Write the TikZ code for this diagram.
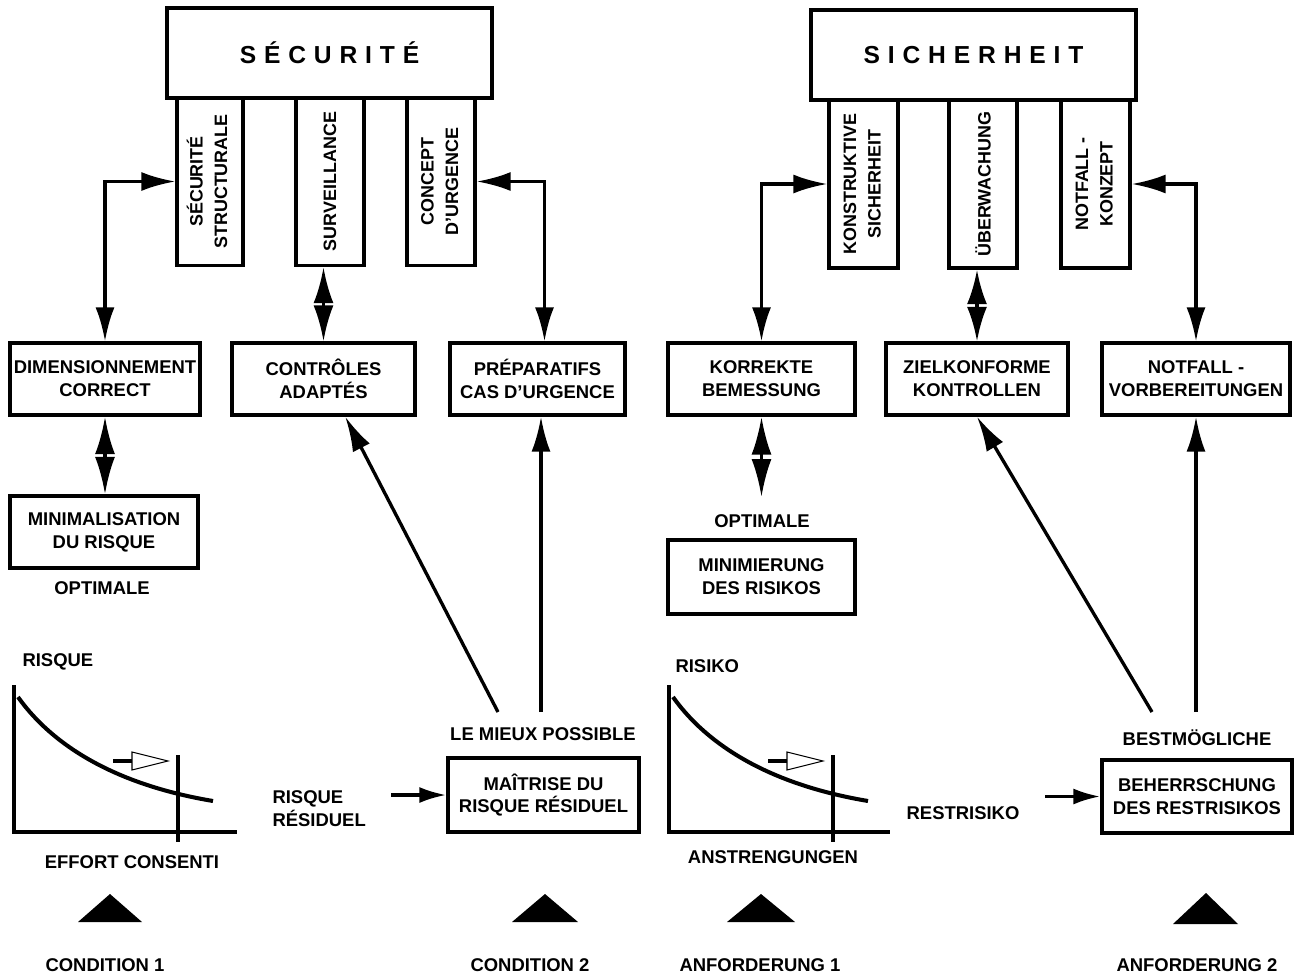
\documentclass[tikz,border=0pt]{standalone}
\usepackage{fontspec}
\setmainfont{Liberation Sans}
\usepackage{tikz}
\usetikzlibrary{arrows.meta}

\begin{document}
\begin{tikzpicture}[x=0.02cm,y=-0.02cm,line width=1.9pt,
                    every node/.style={font=\fontsize{10.5}{13}\selectfont\bfseries},
                    dbl/.style={{Latex[length=#1,width=0.4cm]}-{Latex[length=#1,width=0.4cm]}}]
  \tikzstyle{box}=[draw,align=center,inner sep=0pt,minimum height=1.44cm]
  \tikzstyle{title}=[draw,inner sep=0pt,minimum width=6.5cm,minimum height=1.8cm,
                     font=\fontsize{14}{17}\selectfont\bfseries\addfontfeatures{LetterSpace=32}]
  \tikzstyle{pillar}=[draw,inner sep=0pt,minimum height=3.36cm,
                      font=\fontsize{10.2}{14}\selectfont\bfseries]
  \tikzstyle{corner}=[{Latex[length=0.68cm,width=0.38cm]}-{Latex[length=0.68cm,width=0.38cm]}]
  \tikzstyle{arr}=[-{Latex[length=0.7cm,width=0.38cm]}]
  \tikzstyle{feed}=[-{Latex[length=0.54cm,width=0.32cm]}]

  \useasboundingbox (0,0) rectangle (1299,974);

  % French half
  \node[title]               (secu)  at (329.5,53)  {SÉCURITÉ};
  \node[pillar,minimum width=1.32cm] (ss)   at (210,181.5)
       {\rotatebox{90}{\begin{tabular}{@{}c@{}}SÉCURITÉ\\STRUCTURALE\end{tabular}}};
  \node[pillar,minimum width=1.36cm] (surv) at (330,181.5)
       {\rotatebox{90}{SURVEILLANCE}};
  \node[pillar,minimum width=1.36cm] (cu)   at (441,181.5)
       {\rotatebox{90}{\begin{tabular}{@{}c@{}}CONCEPT\\D’URGENCE\end{tabular}}};

  \node[box,minimum width=3.8cm]  (dim)   at (105,379)   {DIMENSIONNEMENT\\CORRECT};
  \node[box,minimum width=3.66cm] (contr) at (323.5,379) {CONTRÔLES\\ADAPTÉS};
  \node[box,minimum width=3.5cm]  (prep)  at (537.5,379) {PRÉPARATIFS\\CAS D’URGENCE};
  \node[box,minimum width=3.76cm] (mini)  at (104,532)   {MINIMALISATION\\DU RISQUE};
  \node                           (opt1)  at (102,588)   {OPTIMALE};

  \node[box,minimum width=3.82cm,minimum height=1.48cm] (mait) at (543.5,795)
       {MAÎTRISE DU\\RISQUE RÉSIDUEL};
  \node                           (mieux) at (543,734)   {LE MIEUX POSSIBLE};
  \node[anchor=west,align=left]   (resid) at (265,809)   {RISQUE\\RÉSIDUEL};
  \node[anchor=west]              (risque) at (15,662)   {RISQUE};
  \node                           (effort) at (132,862)  {EFFORT CONSENTI};
  \node                           (cond1) at (105,965)   {CONDITION 1};
  \node                           (cond2) at (530,965)   {CONDITION 2};

  % German half
  \node[title]               (sich)  at (973.5,55)  {SICHERHEIT};
  \node[pillar,minimum width=1.38cm] (ks)   at (863.5,184)
       {\rotatebox{90}{\begin{tabular}{@{}c@{}}KONSTRUKTIVE\\SICHERHEIT\end{tabular}}};
  \node[pillar,minimum width=1.36cm] (ueb)  at (983,184)
       {\rotatebox{90}{ÜBERWACHUNG}};
  \node[pillar,minimum width=1.38cm] (nk)   at (1095.5,184)
       {\rotatebox{90}{\begin{tabular}{@{}c@{}}NOTFALL -\\KONZEPT\end{tabular}}};

  \node[box,minimum width=3.74cm] (korr)  at (761.5,379) {KORREKTE\\BEMESSUNG};
  \node[box,minimum width=3.64cm] (ziel)  at (977,379)   {ZIELKONFORME\\KONTROLLEN};
  \node[box,minimum width=3.76cm] (nvor)  at (1196,379)  {NOTFALL -\\VORBEREITUNGEN};
  \node                           (opt2)  at (762,521)   {OPTIMALE};
  \node[box,minimum width=3.74cm,minimum height=1.48cm] (minim) at (761.5,577)
       {MINIMIERUNG\\DES RISIKOS};

  \node[box,minimum width=3.8cm,minimum height=1.46cm] (beh) at (1197,796.5)
       {BEHERRSCHUNG\\DES RESTRISIKOS};
  \node                           (best)  at (1197,738)  {BESTMÖGLICHE};
  \node                           (rest)  at (963,813)   {RESTRISIKO};
  \node[anchor=west]              (risiko) at (668,666)  {RISIKO};
  \node                           (anstr) at (773,857)   {ANSTRENGUNGEN};
  \node                           (anf1)  at (760,965)   {ANFORDERUNG 1};
  \node                           (anf2)  at (1197,965)  {ANFORDERUNG 2};

  \coordinate (m1) at (498,712);
  \coordinate (m2) at (541,712);
  \coordinate (b1) at (1152,712);
  \coordinate (b2) at (1196,712);
  \coordinate (k1) at (761.5,497);

  % connectors
  \draw[corner] (ss.west) -| (dim.north);
  \draw[corner] (cu.east) -| ([xshift=0.14cm]prep.north);
  \draw[dbl=0.72cm] (contr.north |- surv.south) -- (contr.north);
  \draw[dbl=0.75cm] (dim.south) -- (dim.south |- mini.north);
  \draw[arr] (m1) -- (contr.-60);
  \draw[arr] (m2) -- (m2 |- prep.south);
  \draw[feed] ([xshift=-1.1cm]mait.west) -- (mait.west);

  \draw[corner] (ks.west) -| (korr.north);
  \draw[corner] (nk.east) -| (nvor.north);
  \draw[dbl=0.69cm] (ziel.north |- ueb.south) -- (ziel.north);
  \draw[dbl=0.76cm] (korr.south) -- (k1);
  \draw[arr] (b1) -- (ziel.south);
  \draw[arr] (b2) -- (b2 |- nvor.south);
  \draw[feed] ([xshift=-1.1cm]beh.west) -- (beh.west);

  % risk curves
  \foreach \dx/\xe in {0/237,655/890} {
    \begin{scope}[xshift=\dx*0.02cm]
      \draw (14,685) -- (14,832) -- (\xe-\dx,832);
      \draw (178,755) -- (178,842);
      \draw[line width=2.3pt] (18,697) .. controls (45,735) and (100,782) .. (213,801);
      \draw[line width=2.3pt] (113,761) -- (132,761);
      \draw[line width=0.6pt,fill=white] (132,752) -- (168,761) -- (132,770) -- cycle;
    \end{scope}
  }

  % markers
  \fill (78,922) -- (110,894) -- (142,922) -- cycle;
  \fill (512,922) -- (545,894) -- (578,922) -- cycle;
  \fill (727,922) -- (761,894) -- (795,922) -- cycle;
  \fill (1173,924) -- (1206,893) -- (1238,924) -- cycle;
\end{tikzpicture}
\end{document}
